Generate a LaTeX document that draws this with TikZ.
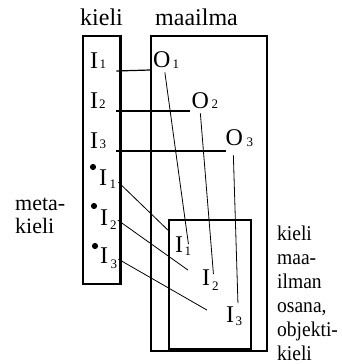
\documentclass[tikz,border=0pt]{standalone}
\usepackage{fontspec}
\setmainfont{Liberation Serif}
\newfontfamily\narrowserif[FakeStretch=0.93]{Liberation Serif}
\begin{document}
\begin{tikzpicture}[x=1pt,y=-1pt,
  lab/.style={font=\fontsize{22}{24}\selectfont, inner sep=0pt, anchor=base west},
  titlelab/.style={lab, font=\fontsize{24}{24}\selectfont},
  sidelab/.style={lab, font=\narrowserif\fontsize{21}{24}\selectfont},
  sym/.style={font=\fontsize{24}{24}\selectfont, inner sep=0pt, anchor=base west},
  subs/.style={font=\fontsize{13}{13}\selectfont, inner sep=0pt, anchor=base west},
  frame/.style={line width=2.5pt},
  link/.style={line width=1.2pt},
  slant/.style={line width=0.8pt},
  dot/.style={circle, fill, inner sep=0pt, minimum size=6.2pt}]
\useasboundingbox (0,0) rectangle (342,364);
% boxes
\draw[frame] (83,36) rectangle (120.5,284);
\draw[frame] (151,36) rectangle (267,351);
\draw[frame] (169,220) rectangle (251,349);
% titles
\node[titlelab] (tkieli) at (80,25) {kieli};
\node[titlelab] (tmaailma) at (155,25) {maailma};
% side labels
\node[lab] (mk1) at (15,210) {meta-};
\node[lab] (mk2) at (15,233) {kieli};
\node[sidelab] (ok1) at (277,240) {kieli};
\node[sidelab] (ok2) at (277,264) {maa-};
\node[sidelab] (ok3) at (277,288) {ilman};
\node[sidelab] (ok4) at (277,312) {osana,};
\node[sidelab] (ok5) at (277,336) {objekti-};
\node[sidelab] (ok6) at (277,360) {kieli};
% language symbols
\node[sym] (i1) at (90,68) {I};  \node[subs] (i1s) at (99.5,68) {1};
\node[sym] (i2) at (90,108) {I}; \node[subs] (i2s) at (99,108) {2};
\node[sym] (i3) at (90,148) {I}; \node[subs] (i3s) at (99.5,148) {3};
% objects
\node[sym] (o1) at (153,67) {O};  \node[subs] (o1s) at (172.5,68) {1};
\node[sym] (o2) at (191.5,108) {O}; \node[subs] (o2s) at (211.5,108) {2};
\node[sym] (o3) at (225.5,145) {O}; \node[subs] (o3s) at (246.5,146) {3};
% metalanguage
\node[dot] (b1) at (93,167) {};
\node[dot] (b2) at (94,206) {};
\node[dot] (b3) at (95,246) {};
\node[sym] (m1) at (99,185) {I};  \node[subs] (m1s) at (109.5,188) {1};
\node[sym] (m2) at (100,225) {I}; \node[subs] (m2s) at (110,229) {2};
\node[sym] (m3) at (100,263) {I}; \node[subs] (m3s) at (110.5,268) {3};
% object-language (inside world)
\node[sym] (n1) at (175,252) {I};  \node[subs] (n1s) at (184.5,255) {1};
\node[sym] (n2) at (202,285) {I};  \node[subs] (n2s) at (212,290) {2};
\node[sym] (n3) at (226,322) {I};  \node[subs] (n3s) at (235.5,325) {3};
% naming links
\draw[link] ([shift={(10,3)}]i1s.base east) -- ([shift={(-3,3)}]o1.base west);
\draw[link] ([shift={(10.5,3)}]i2s.base east) -- ([shift={(-1.5,3)}]o2.base west);
\draw[link] ([shift={(10,3)}]i3s.base east) -- ([shift={(0.5,6)}]o3.base west);
% object lines
\draw[slant] ([shift={(3,5)}]o1.south) -- ([shift={(0.5,-2)}]n1s.north);
\draw[slant] ([shift={(0,5)}]o2.south) -- ([shift={(-2,-7)}]n2s.north);
\draw[slant] ([shift={(-1,10)}]o3.south) -- ([shift={(-1,-13)}]n3s.north);
% metalanguage lines
\draw[slant] ([shift={(2,3)}]m1s.north east) -- ([shift={(-5,-4)}]n1.north west);
\draw[slant] ([shift={(1,0)}]m2s.north east) -- ([shift={(-14,1)}]n2.north west);
\draw[slant] ([shift={(1,0)}]m3s.north east) -- ([shift={(-19,4)}]n3.north west);
\end{tikzpicture}
\end{document}
